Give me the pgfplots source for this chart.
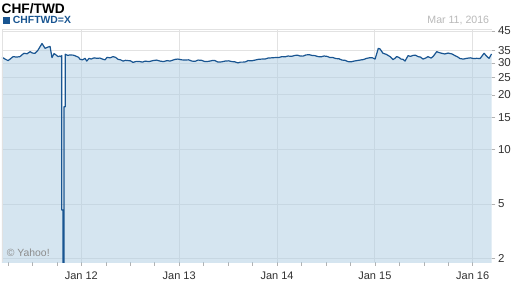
\documentclass[border=0pt]{standalone}
\usepackage{pgfplots}
\pgfplotsset{compat=1.18}
\usepackage{pgfplotstable}
\usepackage{fontspec}
\setmainfont{Liberation Sans}
\definecolor{linecol}{RGB}{25,85,145}
\definecolor{fillcol}{RGB}{173,205,227}
\definecolor{gridcol}{RGB}{226,226,226}
\definecolor{labcol}{RGB}{50,50,50}
\pgfplotstableread{
year value
2011.189 32.2
2011.205 31.9
2011.220 31.5
2011.235 31.2
2011.251 30.9
2011.275 31.6
2011.302 32.5
2011.338 32.3
2011.373 32.5
2011.395 33.3
2011.414 33.9
2011.445 33.7
2011.476 34.6
2011.500 34.0
2011.527 33.9
2011.557 35.3
2011.598 38.4
2011.629 36.1
2011.660 36.7
2011.680 37.0
2011.700 32.1
2011.721 33.8
2011.741 33.2
2011.762 32.5
2011.782 32.75
2011.798 32.3
2011.800 33.0
2011.800 4.63
2011.813 4.63
2011.813 1.5
2011.823 1.5
2011.823 17.2
2011.836 17.2
2011.836 33.5
2011.860 33.0
2011.884 33.2
2011.920 33.1
2011.956 32.5
2011.972 32.2
2011.987 31.4
2012.012 31.2
2012.038 31.8
2012.055 30.7
2012.079 31.8
2012.100 31.5
2012.130 32.0
2012.160 31.8
2012.190 31.9
2012.222 31.4
2012.242 31.2
2012.263 32.2
2012.294 32.0
2012.324 32.5
2012.350 32.2
2012.375 31.4
2012.400 31.2
2012.426 30.7
2012.452 31.0
2012.477 30.9
2012.502 30.8
2012.528 30.2
2012.564 30.6
2012.600 30.5
2012.625 30.3
2012.651 30.7
2012.692 30.5
2012.733 30.9
2012.768 31.1
2012.804 30.7
2012.840 30.5
2012.876 30.9
2012.906 30.7
2012.937 31.1
2012.962 31.4
2012.988 31.5
2013.024 31.2
2013.060 31.1
2013.095 31.2
2013.131 30.7
2013.162 30.6
2013.193 31.1
2013.228 31.0
2013.264 30.5
2013.300 30.6
2013.336 30.9
2013.366 30.9
2013.397 30.3
2013.433 30.4
2013.469 30.7
2013.505 30.8
2013.540 30.5
2013.570 30.4
2013.601 30.0
2013.626 30.3
2013.652 30.3
2013.678 30.4
2013.703 30.9
2013.740 30.8
2013.775 31.1
2013.811 31.4
2013.847 31.5
2013.878 31.5
2013.908 31.9
2013.944 32.0
2013.979 32.1
2014.015 32.1
2014.051 32.5
2014.082 32.4
2014.112 32.75
2014.148 32.6
2014.184 33.0
2014.210 33.1
2014.235 32.75
2014.266 32.7
2014.296 33.2
2014.327 33.3
2014.358 33.0
2014.388 32.9
2014.419 32.5
2014.450 32.4
2014.480 32.75
2014.511 32.6
2014.542 32.1
2014.572 32.1
2014.603 31.7
2014.634 31.6
2014.664 31.1
2014.695 31.0
2014.725 30.5
2014.756 30.4
2014.787 30.7
2014.818 30.9
2014.848 31.1
2014.882 31.3
2014.917 31.8
2014.950 32.05
2014.976 32.0
2015.002 31.5
2015.035 36.1
2015.053 35.8
2015.083 33.9
2015.114 33.5
2015.155 32.5
2015.185 31.3
2015.204 31.8
2015.223 32.5
2015.245 32.2
2015.267 31.5
2015.288 31.4
2015.308 30.7
2015.339 32.9
2015.364 32.6
2015.390 33.0
2015.415 33.1
2015.441 32.5
2015.466 32.3
2015.492 31.5
2015.518 31.9
2015.543 32.5
2015.574 31.9
2015.594 32.5
2015.632 34.6
2015.658 34.2
2015.683 33.9
2015.715 33.6
2015.748 34.0
2015.789 33.6
2015.819 32.9
2015.845 32.4
2015.870 31.7
2015.905 31.5
2015.939 31.8
2015.975 32.0
2016.008 31.7
2016.041 31.8
2016.075 31.7
2016.116 33.9
2016.146 32.5
2016.167 31.8
2016.192 33.6
}\rates
\begin{document}
\begin{tikzpicture}[x=1pt,y=1pt]
\path[use as bounding box] (0,0) rectangle (512,288);
\fill[white] (0,0) rectangle (512,288);
\begin{axis}[
  at={(2pt,25.5pt)}, anchor=south west,
  scale only axis, width=490pt, height=233pt,
  ymode=log,
  xmin=2011.189, xmax=2016.197,
  ymin=2.375, ymax=45.87,
  axis line style={draw=none},
  xtick={2012,2013,2014,2015,2016},
  xticklabels={Jan 12,Jan 13,Jan 14,Jan 15,Jan 16},
  minor xtick={2011.25,2011.5,2011.75,2012.25,2012.5,2012.75,2013.25,2013.5,2013.75,2014.25,2014.5,2014.75,2015.25,2015.5,2015.75},
  ytick={2.5,5,10,15,20,25,30,35,45},
  yticklabels={2,5,10,15,20,25,30,35,45},
  xtick pos=left, ytick pos=right,
  yticklabel pos=right,
  tick align=outside,
  major tick length=3.5pt, minor tick length=3.5pt,
  tick style={color=gray!60, line width=0.6pt},
  xmajorgrids, ymajorgrids,
  major grid style={color=gridcol, line width=0.8pt},
  xticklabel style={font=\fontsize{11}{13}\selectfont, text=labcol, anchor=base, yshift=-14pt},
  yticklabel style={font=\fontsize{11.5}{13}\selectfont, text=labcol, anchor=west, xshift=-1pt},
  clip=true,
]
\addplot[draw=none, fill=fillcol, fill opacity=0.5] table[x=year,y=value] {\rates} \closedcycle;
\addplot[color=linecol, line width=1.2pt, line join=round] table[x=year,y=value] {\rates};
\draw[gridcol, line width=0.8pt] (rel axis cs:0,0) -- (rel axis cs:0,1) -- (rel axis cs:1,1);
\end{axis}
\node[anchor=base west, inner sep=0] at (1.5,274) {\fontsize{13.7}{15}\selectfont\bfseries CHF/TWD};
\fill[linecol] (2.7,263.7) rectangle (10,271.3);
\node[anchor=base west, inner sep=0, text=linecol] at (12.7,264) {\fontsize{10.4}{12}\selectfont\bfseries CHFTWD=X};
\node[anchor=base east, inner sep=0, text=gray!55] at (489.3,264) {\fontsize{10.6}{12}\selectfont Mar 11, 2016};
\node[anchor=base west, inner sep=0, text=gray!90] at (6.7,31) {\fontsize{10.4}{12}\selectfont © Yahoo!};
\end{tikzpicture}
\end{document}
